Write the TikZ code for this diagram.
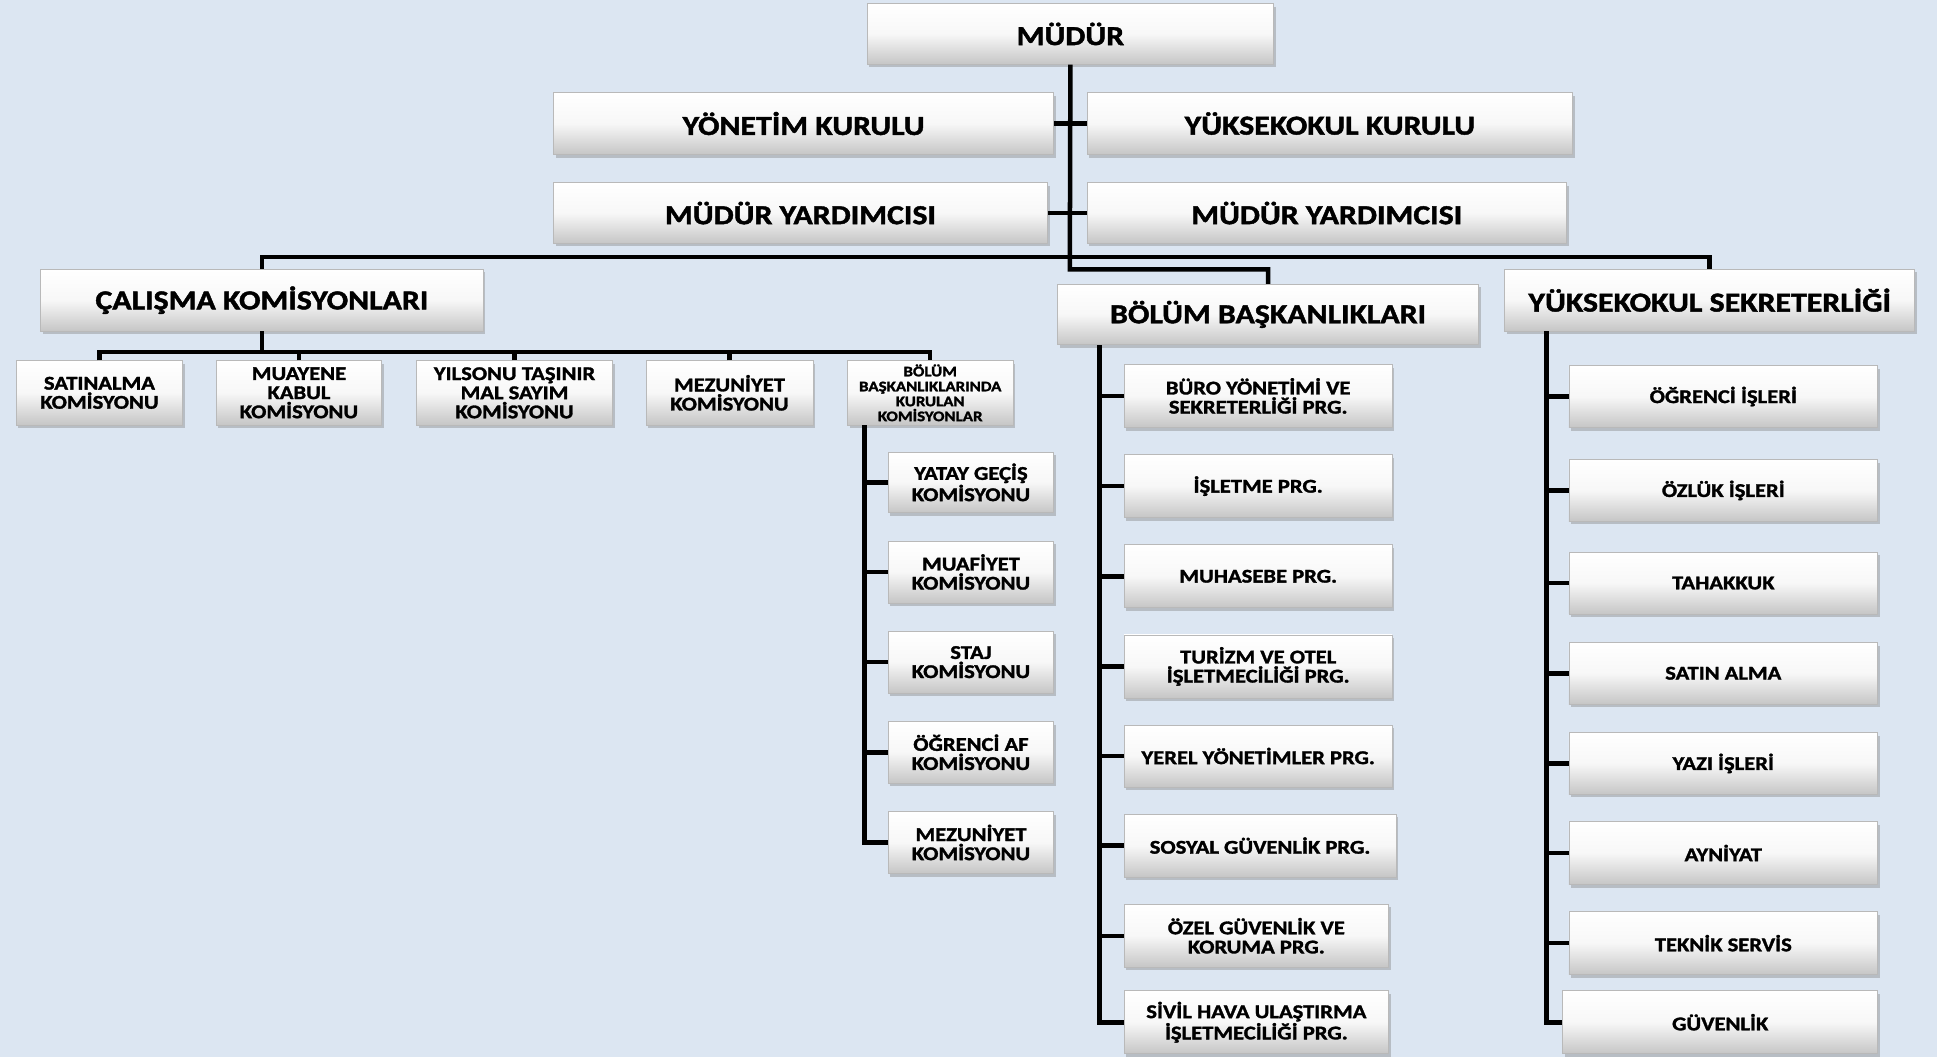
\documentclass[tikz,border=0pt]{standalone}
\usepackage{fontspec}
\setmainfont{Carlito}[FakeStretch=1.16, BoldFeatures={FakeBold=1.6}]
\usetikzlibrary{shadows}
\definecolor{bgc}{RGB}{220,230,242}
\tikzset{
  box/.style={rectangle, draw=gray!55, line width=0.4pt, top color=white, bottom color=gray!45, middle color=gray!6,
    drop shadow={opacity=0.4, shadow xshift=1.3pt, shadow yshift=-1.8pt},
    align=center, inner sep=0pt, text=black},
  ftop/.style={font=\fontsize{15.8}{16.5}\selectfont\bfseries},
  fmid/.style={font=\fontsize{11.2}{11}\selectfont\bfseries},
  fsml/.style={font=\fontsize{8.4}{8.6}\selectfont\bfseries},
  conn/.style={line width=2.6pt, black}
}
\newcommand\bx[7]{%
  \pgfmathsetmacro\myBW{(#4-#2)*0.025}%
  \pgfmathsetmacro\myBH{(#5-#3)*0.025}%
  \node[box,#6,minimum width=\myBW cm,minimum height=\myBH cm] (#1) at ({(#2+#4)/2},{(#3+#5)/2}) {#7};}
\begin{document}
\begin{tikzpicture}[x=0.025cm,y=-0.025cm]
\fill[bgc] (0,0) rectangle (1568,856);
\useasboundingbox (0,0) rectangle (1568,856);
% coordinates for connector rails
\coordinate (hb) at (866,208);
\coordinate (tb) at (866,218);
\coordinate (cb) at (212,285);
\coordinate (kx) at (700,0);
\coordinate (bxl) at (890,0);
\coordinate (sxl) at (1252,0);
% top level
\bx{mudur}{702}{3}{1031}{52}{ftop}{MÜDÜR}
\bx{yon}{448}{75}{853}{125}{ftop}{YÖNETİM KURULU}
\bx{yuk}{880}{75}{1273}{125}{ftop}{YÜKSEKOKUL KURULU}
\bx{my1}{448}{148}{848}{197}{ftop}{MÜDÜR YARDIMCISI}
\bx{my2}{880}{148}{1268}{197}{ftop}{MÜDÜR YARDIMCISI}
\bx{cal}{33}{218}{391}{268}{ftop}{ÇALIŞMA KOMİSYONLARI}
\bx{bol}{856}{230}{1197}{279}{ftop}{BÖLÜM BAŞKANLIKLARI}
\bx{yss}{1218}{218}{1550}{268}{ftop}{YÜKSEKOKUL SEKRETERLİĞİ}
% commissions
\bx{c1}{13}{292}{148}{344}{fmid}{SATINALMA\\KOMİSYONU}
\bx{c2}{175}{292}{309}{344}{fmid}{MUAYENE\\KABUL\\KOMİSYONU}
\bx{c3}{337}{292}{496}{344}{fmid}{YILSONU TAŞINIR\\MAL SAYIM\\KOMİSYONU}
\bx{c4}{523}{292}{658}{344}{fmid}{MEZUNİYET\\KOMİSYONU}
\bx{c5}{686}{292}{820}{344}{fsml}{BÖLÜM\\BAŞKANLIKLARINDA\\KURULAN\\KOMİSYONLAR}
\bx{k1}{719}{366}{853}{415}{fmid}{YATAY GEÇİŞ\\KOMİSYONU}
\bx{k2}{719}{438}{853}{488}{fmid}{MUAFİYET\\KOMİSYONU}
\bx{k3}{719}{511}{853}{561}{fmid}{STAJ\\KOMİSYONU}
\bx{k4}{719}{584}{853}{634}{fmid}{ÖĞRENCİ AF\\KOMİSYONU}
\bx{k5}{719}{657}{853}{707}{fmid}{MEZUNİYET\\KOMİSYONU}
% programmes
\bx{b1}{910}{295}{1127}{346}{fmid}{BÜRO YÖNETİMİ VE\\SEKRETERLİĞİ PRG.}
\bx{b2}{910}{368}{1127}{419}{fmid}{İŞLETME PRG.}
\bx{b3}{910}{441}{1127}{492}{fmid}{MUHASEBE PRG.}
\bx{b4}{910}{514}{1127}{565}{fmid}{TURİZM VE OTEL\\İŞLETMECİLİĞİ PRG.}
\bx{b5}{910}{587}{1127}{637}{fmid}{YEREL YÖNETİMLER PRG.}
\bx{b6}{910}{659}{1130}{710}{fmid}{SOSYAL GÜVENLİK PRG.}
\bx{b7}{910}{732}{1124}{783}{fmid}{ÖZEL GÜVENLİK VE\\KORUMA PRG.}
\bx{b8}{910}{802}{1124}{853}{fmid}{SİVİL HAVA ULAŞTIRMA\\İŞLETMECİLİĞİ PRG.}
% secretariat
\bx{s1}{1270}{296}{1520}{346}{fmid}{ÖĞRENCİ İŞLERİ}
\bx{s2}{1270}{372}{1520}{422}{fmid}{ÖZLÜK İŞLERİ}
\bx{s3}{1270}{447}{1520}{497}{fmid}{TAHAKKUK}
\bx{s4}{1270}{520}{1520}{570}{fmid}{SATIN ALMA}
\bx{s5}{1270}{593}{1520}{643}{fmid}{YAZI İŞLERİ}
\bx{s6}{1270}{665}{1520}{716}{fmid}{AYNİYAT}
\bx{s7}{1270}{738}{1520}{789}{fmid}{TEKNİK SERVİS}
\bx{s8}{1265}{802}{1520}{853}{fmid}{GÜVENLİK}
% connectors
\begin{scope}[conn]
\draw (mudur.south) -- (tb) -| (bol.north);
\draw (yon.east) -- (yuk.west);
\draw (my1.east) -- (my2.west);
\draw (cal.north) |- (hb) -| (yss.north);
\draw (cal.south) -- (cb);
\draw (c1.north) |- (cb) -| (c5.north);
\foreach \n in {c2,c3,c4} \draw (\n.north) -- (\n.north |- cb);
\draw (c5.south -| kx) |- (k5.west);
\foreach \n in {k1,k2,k3,k4} \draw (\n.west -| kx) -- (\n.west);
\draw (bol.south -| bxl) |- (b8.west);
\foreach \n in {b1,b2,b3,b4,b5,b6,b7} \draw (\n.west -| bxl) -- (\n.west);
\draw (yss.south -| sxl) |- (s8.west);
\foreach \n in {s1,s2,s3,s4,s5,s6,s7} \draw (\n.west -| sxl) -- (\n.west);
\end{scope}
\end{tikzpicture}
\end{document}
